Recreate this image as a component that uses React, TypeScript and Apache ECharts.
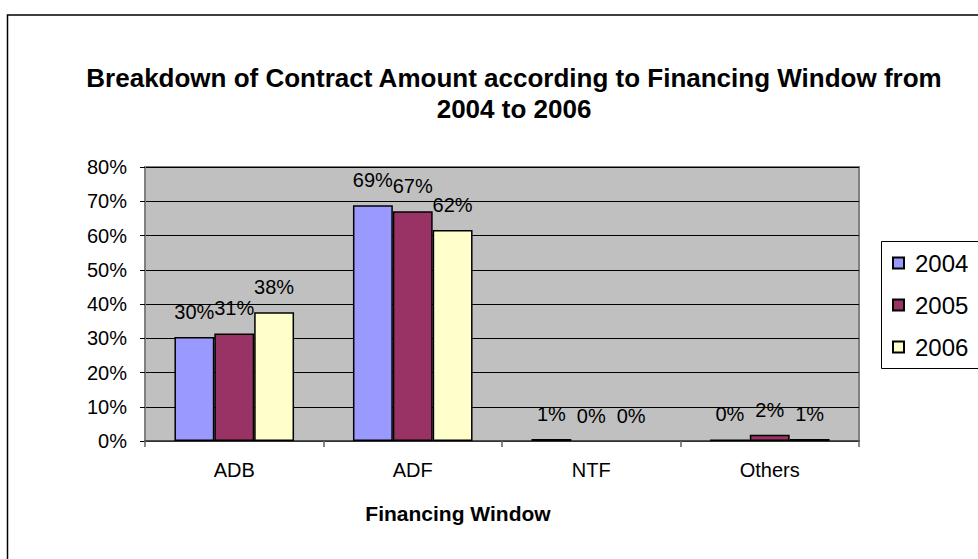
import React, { useEffect, useRef } from "react";
import * as echarts from "echarts";

const categories = ["ADB", "ADF", "NTF", "Others"];
const seriesNames = ["2004", "2005", "2006"];
const values2004 = [30.4, 68.8, 0.6, 0.45];
const values2005 = [31.4, 67.1, 0, 1.8];
const values2006 = [37.6, 61.6, 0, 0.6];
const seriesColors = ["#9999FF", "#993366", "#FFFFCC"];
const titleText =
  "Breakdown of Contract Amount according to Financing Window from\n2004 to 2006";
const xAxisName = "Financing Window";
const yTicks = { min: 0, max: 80, interval: 10 };

const FONT = 'Arial, "Liberation Sans", sans-serif';

export default function App() {
  const ref = useRef<HTMLDivElement>(null);

  useEffect(() => {
    if (!ref.current) return;
    const chart = echarts.init(ref.current, null, { renderer: "svg" });
    const allValues = [values2004, values2005, values2006];

    const series = seriesNames.map((name, i) => ({
      name,
      type: "bar",
      barGap: "0%",
      barCategoryGap: "33%",
      data: allValues[i].map((v) => ({
        value: v,
        itemStyle: v === 0 ? { borderWidth: 0 } : undefined,
      })),
      itemStyle: {
        color: seriesColors[i],
        borderColor: "#000",
        borderWidth: 1.5,
      },
      label: {
        show: true,
        position: "top",
        distance: 15,
        fontFamily: FONT,
        fontSize: 20,
        color: "#000",
        formatter: (p: any) => Math.round(p.value) + "%",
      },
    }));

    chart.setOption({
      animation: false,
      backgroundColor: "#fff",
      textStyle: { fontFamily: FONT },
      title: {
        text: titleText,
        left: 509,
        top: 57,
        textAlign: "center",
        textStyle: {
          fontFamily: FONT,
          fontSize: 26,
          fontWeight: "bold",
          color: "#000",
          lineHeight: 31.5,
        },
      },
      legend: {
        orient: "vertical",
        left: 882,
        top: 242,
        padding: [9, 10, 10, 10],
        itemGap: 18,
        itemWidth: 11,
        itemHeight: 11,
        icon: "rect",
        selectedMode: false,
        borderWidth: 0,
        textStyle: {
          fontFamily: FONT,
          fontSize: 24,
          color: "#000",
          padding: [0, 0, 0, 6],
        },
        data: seriesNames,
      },
      grid: {
        show: true,
        left: 145,
        top: 167,
        width: 714,
        height: 274,
        backgroundColor: "#C0C0C0",
        borderColor: "#808080",
        borderWidth: 2,
      },
      xAxis: {
        type: "category",
        data: categories,
        name: xAxisName,
        nameLocation: "middle",
        nameGap: 62,
        nameTextStyle: {
          fontFamily: FONT,
          fontSize: 21,
          fontWeight: "bold",
          color: "#000",
          padding: [0, 88, 0, 0],
        },
        axisLine: { show: true, lineStyle: { color: "#404040", width: 1.5 } },
        axisTick: {
          show: true,
          length: 6,
          interval: 0,
          lineStyle: { color: "#606060", width: 1.5 },
        },
        axisLabel: {
          fontFamily: FONT,
          fontSize: 20,
          color: "#000",
          margin: 19,
          interval: 0,
        },
      },
      yAxis: {
        type: "value",
        min: yTicks.min,
        max: yTicks.max,
        interval: yTicks.interval,
        axisLine: { show: true, lineStyle: { color: "#808080", width: 2 } },
        axisTick: { show: true, length: 5, lineStyle: { color: "#000" } },
        axisLabel: {
          fontFamily: FONT,
          fontSize: 20,
          color: "#000",
          margin: 18,
          formatter: "{value}%",
        },
        splitLine: { show: true, lineStyle: { color: "#000", width: 1 } },
      },
      graphic: [
        {
          type: "rect",
          silent: true,
          z: 0,
          shape: { x: 881.5, y: 241.5, width: 200, height: 127 },
          style: { fill: "#fff", stroke: "#000", lineWidth: 1 },
        },
        {
          type: "rect",
          silent: true,
          z: 100,
          shape: { x: 7.5, y: 15, width: 1200, height: 1000 },
          style: { fill: "none", stroke: "#000", lineWidth: 1.5 },
        },
      ],
      series,
    });

    return () => chart.dispose();
  }, []);

  return (
    <div
      ref={ref}
      style={{ position: "fixed", left: 0, top: 0, width: 978, height: 559 }}
    />
  );
}
